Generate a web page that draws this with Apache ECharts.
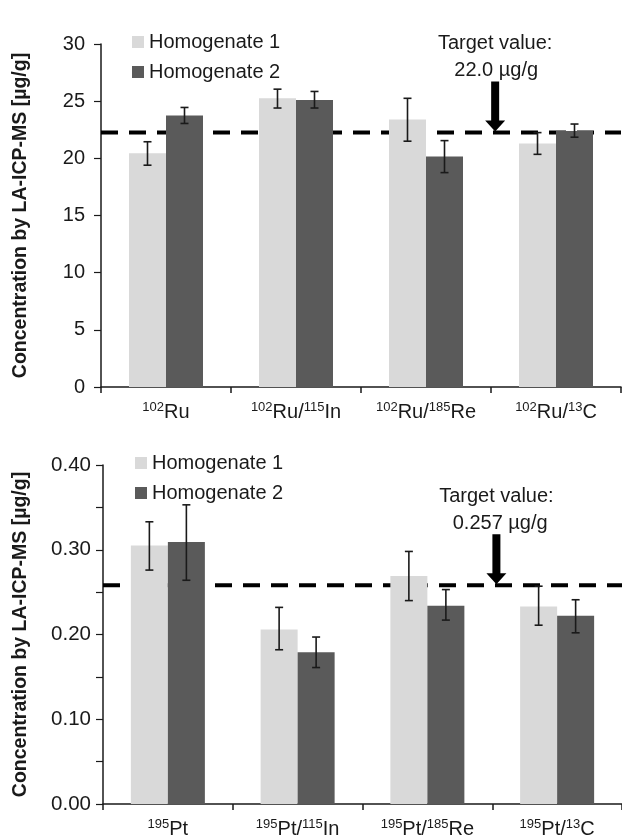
<!DOCTYPE html>
<html><head><meta charset="utf-8">
<script src="https://cdn.jsdelivr.net/npm/echarts@6/dist/echarts.min.js"></script>
<style>html,body{margin:0;padding:0;background:#fff}#c{width:622px;height:839px}</style>
</head><body><div id="c"></div>
<script>
// ---- data ----
const seriesNames = ['Homogenate 1', 'Homogenate 2'];
const topCategories = ['102Ru', '102Ru/115In', '102Ru/185Re', '102Ru/13C'];
const topH1 = [20.45, 25.25, 23.4, 21.3];
const topH1Low = [19.4, 24.4, 21.5, 20.35];
const topH1High = [21.45, 26.05, 25.25, 22.25];
const topH2 = [23.75, 25.1, 20.15, 22.4];
const topH2Low = [23.05, 24.4, 18.75, 21.85];
const topH2High = [24.45, 25.85, 21.55, 23.0];
const topTargetLine = 22.25;
const topTargetText = ['Target value:', '22.0 µg/g'];
const topTicks = [0, 5, 10, 15, 20, 25, 30];

const botCategories = ['195Pt', '195Pt/115In', '195Pt/185Re', '195Pt/13C'];
const botH1 = [0.305, 0.206, 0.269, 0.233];
const botH1Low = [0.276, 0.182, 0.240, 0.211];
const botH1High = [0.333, 0.232, 0.298, 0.257];
const botH2 = [0.309, 0.179, 0.234, 0.222];
const botH2Low = [0.264, 0.161, 0.217, 0.202];
const botH2High = [0.353, 0.197, 0.253, 0.241];
const botTargetLine = 0.258;
const botTargetText = ['Target value:', ' 0.257 µg/g'];
const botTickLabels = ['0.00', '0.10', '0.20', '0.30', '0.40'];

const yTitle = 'Concentration by LA-ICP-MS [µg/g]';
const arrowFrac = 0.758;

// ---- style ----
const FONT = '"Liberation Sans", Arial, sans-serif';
const TXT = '#1a1a1a';
const C1 = '#d9d9d9', C2 = '#5a5a5a';
const BW = 37;

function richLabel(s) {
  return s.replace(/(\d+)([A-Za-z\/]+)/g, '{s|$1}{m|$2}');
}
const rich = {
  s: { fontSize: 13, fontFamily: FONT, color: TXT, padding: [0, 0, 9, 0] },
  m: { fontSize: 20, fontFamily: FONT, color: TXT }
};

function errSeries(gi, low, high, offset) {
  const data = low.map((l, i) => [i, l, high[i]]);
  return {
    type: 'custom', xAxisIndex: gi * 2, yAxisIndex: gi, z: 5, silent: true,
    data: data, encode: { x: 0, y: [1, 2] },
    renderItem: function (params, api) {
      const lo = api.coord([api.value(0), api.value(1)]);
      const hi = api.coord([api.value(0), api.value(2)]);
      const x = lo[0] + offset;
      const st = { stroke: '#1a1a1a', lineWidth: 1.6 };
      return { type: 'group', children: [
        { type: 'line', shape: { x1: x, y1: lo[1], x2: x, y2: hi[1] }, style: st },
        { type: 'line', shape: { x1: x - 4, y1: lo[1], x2: x + 4, y2: lo[1] }, style: st },
        { type: 'line', shape: { x1: x - 4, y1: hi[1], x2: x + 4, y2: hi[1] }, style: st }
      ]};
    }
  };
}

const grids = [
  { left: 101, top: 44, width: 520, height: 343 },
  { left: 103, top: 465, width: 520, height: 343 }
];

function catAxis(gi, cats) {
  return {
    type: 'category', gridIndex: gi, data: cats,
    axisLine: { lineStyle: { color: '#1a1a1a', width: 1.5 } },
    axisTick: { show: true, length: 6, lineStyle: { color: '#1a1a1a', width: 1.5 } },
    axisLabel: { interval: 0, margin: 14, formatter: v => richLabel(v), rich: rich }
  };
}
function hiddenX(gi) {
  return { type: 'value', gridIndex: gi, min: 0, max: 1, show: false };
}

const option = {
  animation: false,
  backgroundColor: '#fff',
  textStyle: { fontFamily: FONT },
  grid: grids,
  legend: [
    { data: [{ name: seriesNames[0] }, { name: seriesNames[1] }], orient: 'vertical', left: 127, top: 27,
      itemWidth: 12, itemHeight: 12, itemGap: 10, icon: 'rect',
      textStyle: { fontSize: 20, color: TXT, fontFamily: FONT } },
    { data: [{ name: seriesNames[0] }, { name: seriesNames[1] }], orient: 'vertical', left: 130, top: 448,
      itemWidth: 12, itemHeight: 12, itemGap: 10, icon: 'rect',
      textStyle: { fontSize: 20, color: TXT, fontFamily: FONT } }
  ],
  xAxis: [catAxis(0, topCategories), hiddenX(0), catAxis(1, botCategories), hiddenX(1)],
  yAxis: [
    { type: 'value', gridIndex: 0, min: topTicks[0], max: topTicks[topTicks.length - 1], interval: 5,
      splitLine: { show: false },
      axisLine: { show: true, lineStyle: { color: '#1a1a1a', width: 1.5 } },
      axisTick: { show: true, length: 7, lineStyle: { color: '#1a1a1a', width: 1.2 } },
      axisLabel: { fontSize: 20, color: TXT, margin: 16 },
      name: yTitle, nameLocation: 'middle', nameGap: 70,
      nameTextStyle: { fontSize: 19.5, fontWeight: 'bold', color: TXT } },
    { type: 'value', gridIndex: 1, min: 0, max: 0.4, interval: 0.05,
      splitLine: { show: false },
      axisLine: { show: true, lineStyle: { color: '#1a1a1a', width: 1.5 } },
      axisTick: { show: true, length: 7, lineStyle: { color: '#1a1a1a', width: 1.2 } },
      axisLabel: { fontSize: 20.5, color: TXT, margin: 12,
        formatter: v => { const k = Math.round(v * 100); return k % 10 === 0 ? botTickLabels[k / 10] : ''; } },
      name: yTitle, nameLocation: 'middle', nameGap: 72,
      nameTextStyle: { fontSize: 19.5, fontWeight: 'bold', color: TXT } }
  ],
  series: [
    { type: 'line', xAxisIndex: 1, yAxisIndex: 0, data: [[0, topTargetLine], [1, topTargetLine]],
      symbol: 'none', silent: true, z: 1, lineStyle: { color: '#000', width: 4, type: [17, 11] } },
    { type: 'line', xAxisIndex: 3, yAxisIndex: 1, data: [[0, botTargetLine], [1, botTargetLine]],
      symbol: 'none', silent: true, z: 1, lineStyle: { color: '#000', width: 4, type: [17, 11] } },
    { name: seriesNames[0], type: 'bar', xAxisIndex: 0, yAxisIndex: 0, data: topH1, barWidth: BW, barGap: '0%', z: 2, itemStyle: { color: C1 } },
    { name: seriesNames[1], type: 'bar', xAxisIndex: 0, yAxisIndex: 0, data: topH2, barWidth: BW, barGap: '0%', z: 2, itemStyle: { color: C2 } },
    { name: seriesNames[0], type: 'bar', xAxisIndex: 2, yAxisIndex: 1, data: botH1, barWidth: BW, barGap: '0%', z: 2, itemStyle: { color: C1 } },
    { name: seriesNames[1], type: 'bar', xAxisIndex: 2, yAxisIndex: 1, data: botH2, barWidth: BW, barGap: '0%', z: 2, itemStyle: { color: C2 } },
    errSeries(0, topH1Low, topH1High, -BW / 2),
    errSeries(0, topH2Low, topH2High, BW / 2),
    errSeries(1, botH1Low, botH1High, -BW / 2),
    errSeries(1, botH2Low, botH2High, BW / 2)
  ]
};

const chart = echarts.init(document.getElementById('c'), null, { renderer: 'canvas' });
chart.setOption(option);

function annot(xi, yi, val, texts) {
  const p = chart.convertToPixel({ xAxisIndex: xi, yAxisIndex: yi }, [arrowFrac, val]);
  const x = p[0], tip = p[1] - 1;
  return [
    { type: 'polygon', shape: { points: [[x - 4, tip - 50], [x + 4, tip - 50], [x + 4, tip - 11], [x + 10, tip - 11], [x, tip], [x - 10, tip - 11], [x - 4, tip - 11]] },
      style: { fill: '#000' }, z: 10 },
    { type: 'text', x: x, y: tip - 88, style: { text: texts[0], fontSize: 20, fontFamily: FONT, fill: TXT, align: 'center', verticalAlign: 'middle' }, z: 10 },
    { type: 'text', x: x + 1, y: tip - 61, style: { text: texts[1], fontSize: 20, fontFamily: FONT, fill: TXT, align: 'center', verticalAlign: 'middle' }, z: 10 }
  ];
}
chart.setOption({ graphic: annot(1, 0, topTargetLine, topTargetText).concat(annot(3, 1, botTargetLine, botTargetText)) });
</script></body></html>
